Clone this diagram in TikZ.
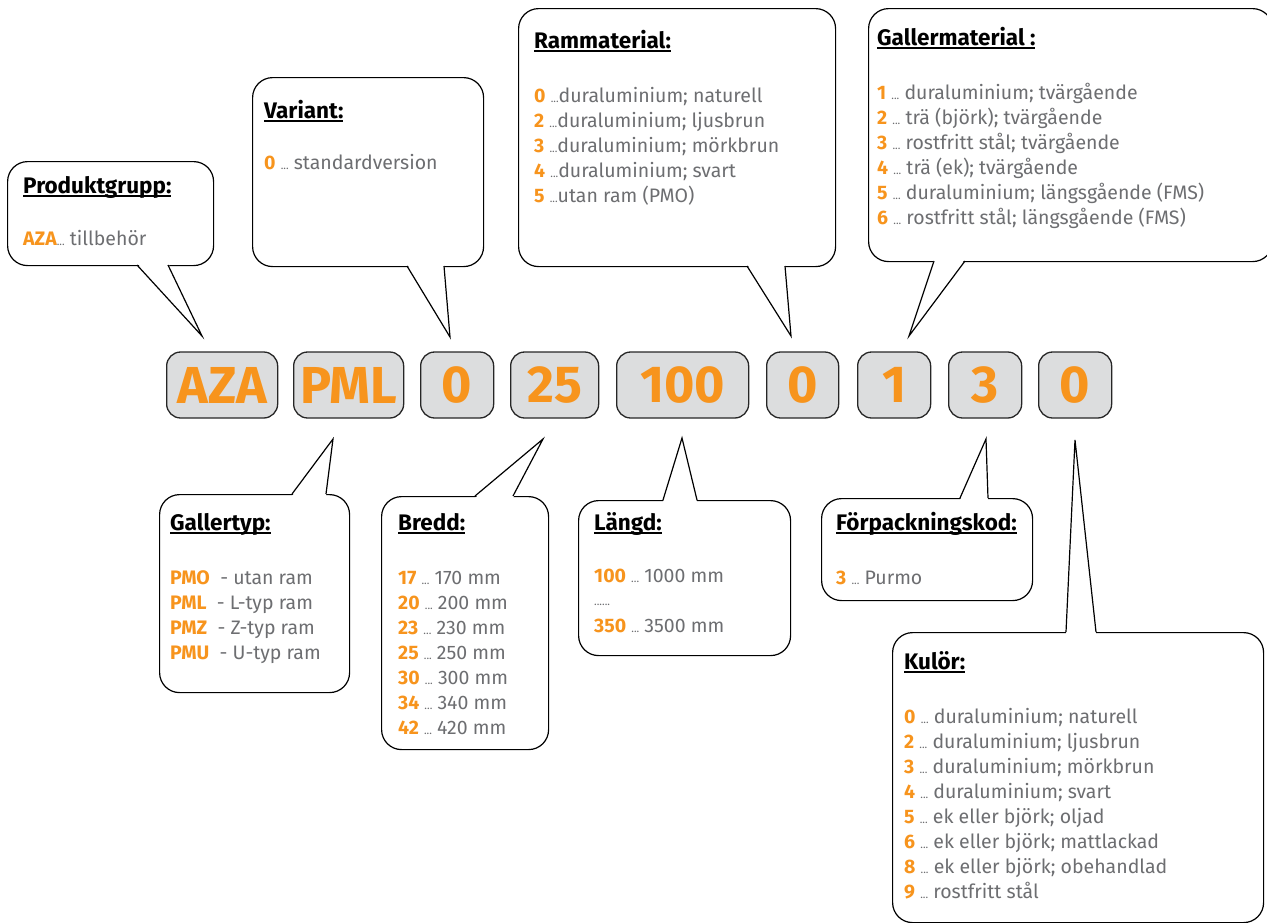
\documentclass[tikz,border=0pt]{standalone}
\usepackage{fontspec}
\setmainfont{Fira Sans}
\definecolor{og}{HTML}{F7941D}
\definecolor{tg}{HTML}{6D6E71}
\definecolor{bx}{HTML}{DCDDDE}
\newcommand\hd[1]{\setbox0\hbox{#1}\rlap{\rule[-3.5pt]{\wd0}{1.3pt}}\box0}
\newcommand\on[1]{{\color{og}\bfseries #1}}
\newcommand\dd{{\fontsize{11}{11}\selectfont...}}
\begin{document}
\begin{tikzpicture}[x=1pt,y=-1pt,
 cbox/.style={draw=black,line width=1.2pt,rounded corners=20pt,fill=white,anchor=north west,inner sep=0pt},
 code/.style={draw=black!85,line width=1.3pt,fill=bx,rounded corners=14pt,minimum height=66pt,inner sep=0pt,anchor=west,text=og,font=\fontsize{52}{52}\selectfont\bfseries},
 head/.style={anchor=base west,inner sep=0pt,font=\fontsize{22.5}{26}\selectfont\bfseries},
 txt/.style={anchor=base west,inner sep=0pt,text=tg,font=\fontsize{19.5}{23}\selectfont},
 ptr/.style={line width=1.2pt,line join=miter}]
\useasboundingbox (0,0) rectangle (1267,922);

% code boxes
\node[code,minimum width=111pt] (cA) at (166,385) {AZA};
\node[code,minimum width=110pt] (cB) at (293,385) {PML};
\node[code,minimum width=73pt]  (cC) at (420,385) {0};
\node[code,minimum width=88pt]  (cD) at (510,385) {25};
\node[code,minimum width=132pt] (cE) at (616,385) {100};
\node[code,minimum width=72pt]  (cF) at (766,385) {0};
\node[code,minimum width=73pt]  (cG) at (857,385) {1};
\node[code,minimum width=73pt]  (cH) at (948,385) {3};
\node[code,minimum width=73pt]  (cI) at (1038,385) {0};

% tips
\coordinate (t1) at (202,336);
\coordinate (t2) at (450,337);
\coordinate (t3) at (791,336);
\coordinate (t4) at (909,336);
\coordinate (t5) at (333,439);
\coordinate (t6) at (543,439);
\coordinate (t7) at (682,438);
\coordinate (t8) at (986,439);
\coordinate (t9) at (1075,440);

% Produktgrupp
\node[cbox,minimum width=206pt,minimum height=104pt] (pg) at (7,161) {};
\fill[white] (137,263) -- (t1) -- (168,263) -- cycle;
\draw[ptr] (137,265) -- (t1) -- (168,265);
\node[head] at (23,193) {\hd{Produktgrupp:}};
\node[txt] at (23,245) {\on{AZA}\dd\ tillbehör};

% Variant
\node[cbox,minimum width=231pt,minimum height=189pt] (va) at (252,77) {};
\fill[white] (407,264) -- (t2) -- (444,264) -- cycle;
\draw[ptr] (407,266) -- (t2) -- (444,266);
\node[head] at (264,118) {\hd{Variant:}};
\node[txt] at (264,169) {\on{0} \dd\ standardversion};

% Rammaterial
\node[cbox,minimum width=317pt,minimum height=258pt] (rm) at (518,8) {};
\fill[white] (747,264) -- (t3) -- (785,264) -- cycle;
\draw[ptr] (747,266) -- (t3) -- (785,266);
\node[head] at (534,48) {\hd{Rammaterial:}};
\node[txt] at (534,102) {\on{0} \dd duraluminium; naturell};
\node[txt] at (534,127) {\on{2} \dd duraluminium; ljusbrun};
\node[txt] at (534,152) {\on{3} \dd duraluminium; mörkbrun};
\node[txt] at (534,177) {\on{4} \dd duraluminium; svart};
\node[txt] at (534,202) {\on{5} \dd utan ram (PMO)};

% Gallermaterial
\node[cbox,minimum width=404pt,minimum height=253pt] (gm) at (868,8) {};
\fill[white] (934,259) -- (t4) -- (965,259) -- cycle;
\draw[ptr] (934,261) -- (t4) -- (965,261);
\node[head] at (877,45) {\hd{Gallermaterial :}};
\node[txt] at (877,99)  {\on{1} \dd\ duraluminium; tvärgående};
\node[txt] at (877,124) {\on{2} \dd\ trä (björk); tvärgående};
\node[txt] at (877,149) {\on{3} \dd\ rostfritt stål; tvärgående};
\node[txt] at (877,174) {\on{4} \dd\ trä (ek); tvärgående};
\node[txt] at (877,199) {\on{5} \dd\ duraluminium; längsgående (FMS)};
\node[txt] at (877,224) {\on{6} \dd\ rostfritt stål; längsgående (FMS)};

% Gallertyp
\node[cbox,minimum width=190pt,minimum height=198pt] (gt) at (159,494) {};
\fill[white] (292,496) -- (t5) -- (326,496) -- cycle;
\draw[ptr] (292,494) -- (t5) -- (326,494);
\node[head] at (170,530) {\hd{Gallertyp:}};
\node[txt] at (170,584) {\on{PMO}\ \ - utan ram};
\node[txt] at (170,609) {\on{PML}\ \ - L-typ ram};
\node[txt] at (170,634) {\on{PMZ}\ \ - Z-typ ram};
\node[txt] at (170,659) {\on{PMU}\ \ - U-typ ram};

% Bredd
\node[cbox,minimum width=167pt,minimum height=253pt] (br) at (381,496) {};
\fill[white] (475,498) -- (t6) -- (513,498) -- cycle;
\draw[ptr] (475,496) -- (t6) -- (513,496);
\node[head] at (398,530) {\hd{Bredd:}};
\node[txt] at (398,584) {\on{17} \dd\ 170 mm};
\node[txt] at (398,609) {\on{20} \dd\ 200 mm};
\node[txt] at (398,634) {\on{23} \dd\ 230 mm};
\node[txt] at (398,659) {\on{25} \dd\ 250 mm};
\node[txt] at (398,684) {\on{30} \dd\ 300 mm};
\node[txt] at (398,709) {\on{34} \dd\ 340 mm};
\node[txt] at (398,734) {\on{42} \dd\ 420 mm};

% Längd
\node[cbox,minimum width=212pt,minimum height=155pt] (la) at (578,500) {};
\fill[white] (663,502) -- (t7) -- (697,502) -- cycle;
\draw[ptr] (663,500) -- (t7) -- (697,500);
\node[head] at (594,530) {\hd{Längd:}};
\node[txt] at (594,582) {\on{100} \dd\ 1000 mm};
\node[txt] at (594,605) {\dd\dd};
\node[txt] at (594,632) {\on{350} \dd\ 3500 mm};

% Förpackningskod
\node[cbox,minimum width=211pt,minimum height=102pt] (fk) at (821,498) {};
\fill[white] (960,500) -- (t8) -- (988,500) -- cycle;
\draw[ptr] (960,498) -- (t8) -- (988,498);
\node[head] at (836,530) {\hd{Förpackningskod:}};
\node[txt] at (836,584) {\on{3} \dd\ Purmo};

% Kulör
\node[cbox,minimum width=371pt,minimum height=290pt] (ku) at (892,632) {};
\fill[white] (1066,634) -- (t9) -- (1096,634) -- cycle;
\draw[ptr] (1066,632) -- (t9) -- (1096,632);
\node[head] at (904,669) {\hd{Kulör:}};
\node[txt] at (904,723) {\on{0} \dd\ duraluminium; naturell};
\node[txt] at (904,748) {\on{2} \dd\ duraluminium; ljusbrun};
\node[txt] at (904,773) {\on{3} \dd\ duraluminium; mörkbrun};
\node[txt] at (904,798) {\on{4} \dd\ duraluminium; svart};
\node[txt] at (904,823) {\on{5} \dd\ ek eller björk; oljad};
\node[txt] at (904,848) {\on{6} \dd\ ek eller björk; mattlackad};
\node[txt] at (904,873) {\on{8} \dd\ ek eller björk; obehandlad};
\node[txt] at (904,898) {\on{9} \dd\ rostfritt stål};
\end{tikzpicture}
\end{document}
